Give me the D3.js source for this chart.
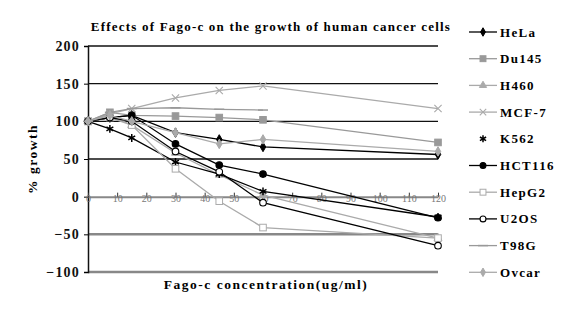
<!DOCTYPE html>
<html>
<head>
<meta charset="UTF-8">
<title>Effects of Fago-c</title>
<style>
  body { margin: 0; background: #fff; }
  svg text { font-family: "Liberation Serif", "DejaVu Serif", "Times New Roman", serif; font-weight: bold; }
</style>
</head>
<body>
<script src="https://cdn.jsdelivr.net/npm/d3@7"></script>
<script>
// data
var conc = [0, 7.5, 15, 30, 45, 60, 120];
var seriesNames = ["HeLa", "Du145", "H460", "MCF-7", "K562", "HCT116", "HepG2", "U2OS", "T98G", "Ovcar"];
var hela   = [100, 105, 108, 85, 76, 66, 56];
var du145  = [100, 112, 108, 107, 105, 102, 72];
var h460   = [100, 108, 95, 58, 29, 2, -55];
var mcf7   = [100, 110, 117, 131, 141, 147, 117];
var k562   = [100, 90, 78, 46, 30, 7, -27];
var hct116 = [100, 105, 108, 70, 42, 30, -28];
var hepg2  = [100, 105, 95, 37, -6, -41, -55];
var u2os   = [100, 105, 100, 60, 33, -8, -65];
var t98g   = [100, 112, 117, 118, 116, 115, null];
var ovcar  = [100, 108, 100, 85, 70, 76, 60];
var xTicks = [0, 10, 20, 30, 40, 50, 60, 70, 80, 90, 100, 110, 120];
var yTicks = [-100, -50, 0, 50, 100, 150, 200];

var styles = {
  "HeLa":   { color: "#000", marker: "diamond", fill: "#000" },
  "Du145":  { color: "#999", marker: "square", fill: "#999" },
  "H460":   { color: "#aaa", marker: "triangle", fill: "#aaa" },
  "MCF-7":  { color: "#aaa", marker: "cross", fill: "none" },
  "K562":   { color: "#000", marker: "star", fill: "#000" },
  "HCT116": { color: "#000", marker: "circle", fill: "#000" },
  "HepG2":  { color: "#aaa", marker: "square", fill: "#fff" },
  "U2OS":   { color: "#000", marker: "circle", fill: "#fff" },
  "T98G":   { color: "#999", marker: "dash", fill: "none" },
  "Ovcar":  { color: "#aaa", marker: "diamond", fill: "#aaa" }
};
var allValues = [hela, du145, h460, mcf7, k562, hct116, hepg2, u2os, t98g, ovcar];

var W = 576, H = 312;
var svg = d3.select("body").append("svg").attr("width", W).attr("height", H);

var x = d3.scaleLinear().domain([0, 120]).range([88, 438]);
var y = d3.scaleLinear().domain([-100, 200]).range([272, 46]);

// title
svg.append("text").attr("x", 271).attr("y", 31).attr("text-anchor", "middle")
  .attr("font-size", 13).attr("letter-spacing", 1.2)
  .text("Effects of Fago-c on the growth of human cancer cells");

// grid lines
[200, 150, 100, 50].forEach(function(v) {
  svg.append("line").attr("x1", x(0)).attr("x2", x(120)).attr("y1", y(v)).attr("y2", y(v))
    .attr("stroke", "#111").attr("stroke-width", 1.3);
});
svg.append("line").attr("x1", x(0)).attr("x2", x(120)).attr("y1", y(-50)).attr("y2", y(-50))
  .attr("stroke", "#888").attr("stroke-width", 2.5);
svg.append("line").attr("x1", x(0)).attr("x2", x(120)).attr("y1", y(-100)).attr("y2", y(-100))
  .attr("stroke", "#888").attr("stroke-width", 2.5);

// y axis
var yAxis = svg.append("g").attr("transform", "translate(" + x(0) + ",0)")
  .call(d3.axisLeft(y).tickValues(yTicks).tickSize(4).tickPadding(4));
yAxis.attr("font-family", null);
yAxis.select(".domain").attr("stroke", "#111").attr("stroke-width", 1.5);
yAxis.selectAll("text").attr("font-size", 14).attr("letter-spacing", 1.2).attr("fill", "#111");

// x axis along zero
var xAxis = svg.append("g").attr("transform", "translate(0," + y(0) + ")")
  .call(d3.axisBottom(x).tickValues(xTicks).tickSizeInner(-4).tickSizeOuter(0).tickPadding(1));
xAxis.attr("font-family", null);
xAxis.select(".domain").attr("stroke", "#888").attr("stroke-width", 2);
xAxis.selectAll(".tick line").attr("stroke", "#333");
xAxis.selectAll("text").attr("font-size", 10).attr("fill", "#777").attr("dy", "0.45em")
  .style("font-weight", "normal");

// axis titles
svg.append("text").attr("transform", "translate(37," + y(50) + ") rotate(-90)")
  .attr("text-anchor", "middle").attr("font-size", 13.5).attr("letter-spacing", 1.5).text("% growth");
svg.append("text").attr("x", 266).attr("y", 289).attr("text-anchor", "middle")
  .attr("font-size", 13.5).attr("letter-spacing", 1.5).text("Fago-c concentration(ug/ml)");

function drawMarker(g, type, color, fill, px, py, s) {
  s = s || 1;
  if (type === "diamond") {
    g.append("path").attr("d", d3.symbol(d3.symbolDiamond, 26 * s)())
      .attr("transform", "translate(" + px + "," + py + ")").attr("fill", fill).attr("stroke", color);
  } else if (type === "square") {
    var h = 3.3 * Math.sqrt(s);
    g.append("rect").attr("x", px - h).attr("y", py - h).attr("width", 2 * h).attr("height", 2 * h)
      .attr("fill", fill).attr("stroke", color);
  } else if (type === "triangle") {
    g.append("path").attr("d", d3.symbol(d3.symbolTriangle, 28 * s)())
      .attr("transform", "translate(" + px + "," + py + ")").attr("fill", fill).attr("stroke", color);
  } else if (type === "cross") {
    g.append("path").attr("d", d3.symbol(d3.symbolX, 36 * s)())
      .attr("transform", "translate(" + px + "," + py + ")").attr("fill", "none").attr("stroke", color).attr("stroke-width", 1.1);
  } else if (type === "star") {
    g.append("path").attr("d", d3.symbol(d3.symbolAsterisk, 44 * s)())
      .attr("transform", "translate(" + px + "," + py + ")").attr("fill", "none").attr("stroke", color).attr("stroke-width", 1.5);
  } else if (type === "circle") {
    g.append("circle").attr("cx", px).attr("cy", py).attr("r", 3.3 * Math.sqrt(s))
      .attr("fill", fill).attr("stroke", color).attr("stroke-width", 1.1);
  } else if (type === "dash") {
    g.append("line").attr("x1", px - 5).attr("x2", px + 5).attr("y1", py).attr("y2", py)
      .attr("stroke", color).attr("stroke-width", 1.5);
  }
}

var line = d3.line().defined(function(d) { return d[1] !== null; })
  .x(function(d) { return x(d[0]); }).y(function(d) { return y(d[1]); });

seriesNames.forEach(function(name, i) {
  var st = styles[name];
  var pts = conc.map(function(c, j) { return [c, allValues[i][j]]; });
  var g = svg.append("g");
  g.append("path").datum(pts).attr("d", line).attr("fill", "none")
    .attr("stroke", st.color).attr("stroke-width", 1.3);
  pts.filter(function(p) { return p[1] !== null; }).forEach(function(p) {
    drawMarker(g, st.marker, st.color, st.fill, x(p[0]), y(p[1]));
  });
});

// legend
var leg = svg.append("g");
seriesNames.forEach(function(name, i) {
  var st = styles[name];
  var ly = 32 + i * 26.7;
  if (name !== "K562") {
    leg.append("line").attr("x1", 469).attr("x2", 497).attr("y1", ly).attr("y2", ly)
      .attr("stroke", st.color).attr("stroke-width", 1.3);
  }
  drawMarker(leg, st.marker, st.color, st.fill, 483, ly, 0.8);
  leg.append("text").attr("x", 500).attr("y", ly + 4.5).attr("font-size", 13)
    .attr("letter-spacing", 1.3).text(name);
});
</script>
</body>
</html>
